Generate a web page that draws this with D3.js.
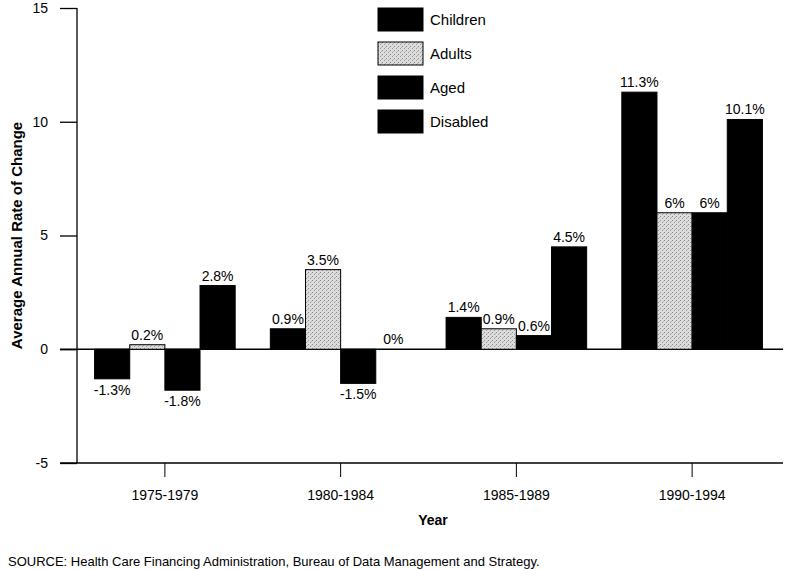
<!DOCTYPE html>
<html><head><meta charset="utf-8">
<script src="https://cdn.jsdelivr.net/npm/d3@7"></script>
<style>body{margin:0;background:#fff}svg{display:block}text{font-family:"Liberation Sans",Arial,Helvetica,sans-serif}</style>
</head><body><svg id="c" width="790" height="570"></svg>
<script>
const categories = ["1975-1979","1980-1984","1985-1989","1990-1994"];
const seriesNames = ["Children","Adults","Aged","Disabled"];
const children = [-1.3, 0.9, 1.4, 11.3];
const adults   = [0.2, 3.5, 0.9, 6];
const aged     = [-1.8, -1.5, 0.6, 6];
const disabled = [2.8, 0, 4.5, 10.1];
const yTicks = [-5, 0, 5, 10, 15];
const seriesValues = [children, adults, aged, disabled];

const svg = d3.select("#c");
const defs = svg.append("defs");
const pat = defs.append("pattern").attr("id","stip").attr("patternUnits","userSpaceOnUse").attr("width",4).attr("height",4);
pat.append("rect").attr("width",4).attr("height",4).attr("fill","#dcdcdc");
pat.append("rect").attr("x",0).attr("y",0).attr("width",1).attr("height",1).attr("fill","#8a8a8a");
pat.append("rect").attr("x",2).attr("y",2).attr("width",1).attr("height",1).attr("fill","#9a9a9a");
pat.append("rect").attr("x",3).attr("y",1).attr("width",1).attr("height",1).attr("fill","#b5b5b5");
const fills = ["#000","url(#stip)","#000","#000"];

const axisX = 77, left = 60, right = 783;
const y = d3.scaleLinear().domain([-5,15]).range([463,8]);
const x0 = d3.scaleBand().domain(categories).range([axisX,780]).paddingInner(0.2).paddingOuter(0.1);
const x1 = d3.scaleBand().domain(seriesNames).range([0,x0.bandwidth()]);

// horizontal lines at 0 and -5
svg.append("line").attr("x1",left).attr("x2",right).attr("y1",y(0)).attr("y2",y(0)).attr("stroke","#000").attr("stroke-width",1.3);
svg.append("line").attr("x1",left).attr("x2",right).attr("y1",y(-5)).attr("y2",y(-5)).attr("stroke","#000").attr("stroke-width",1.3);

// y axis
const yAxis = d3.axisLeft(y).tickValues(yTicks).tickSize(axisX-left).tickPadding(12).tickFormat(d=>String(d));
const gy = svg.append("g").attr("transform",`translate(${axisX},0)`).call(yAxis);
gy.select(".domain").remove();
gy.selectAll(".tick line").attr("stroke","#000").attr("stroke-width",1.3);
gy.selectAll(".tick text").attr("font-size",14).attr("fill","#000");
svg.append("line").attr("x1",axisX).attr("x2",axisX).attr("y1",y(15)).attr("y2",y(-5)).attr("stroke","#000").attr("stroke-width",1.3);

// x axis
const xAxis = d3.axisBottom(x0).tickSize(14).tickPadding(13);
const gx = svg.append("g").attr("transform",`translate(0,${y(-5)})`).call(xAxis);
gx.select(".domain").remove();
gx.selectAll(".tick line").attr("stroke","#000").attr("stroke-width",1);
gx.selectAll(".tick text").attr("font-size",14).attr("fill","#000");

// bars
const data = [];
categories.forEach((c,i)=>seriesNames.forEach((s,j)=>data.push({c,s,j,v:seriesValues[j][i]})));
const g = svg.append("g");
g.selectAll("rect").data(data).enter().append("rect")
  .attr("x",d=>x0(d.c)+x1(d.s))
  .attr("width",x1.bandwidth())
  .attr("y",d=>y(Math.max(0,d.v)))
  .attr("height",d=>Math.abs(y(d.v)-y(0)))
  .attr("fill",d=>fills[d.j])
  .attr("stroke","#000").attr("stroke-width",1);
g.selectAll("text").data(data).enter().append("text")
  .attr("x",d=>x0(d.c)+x1(d.s)+x1.bandwidth()/2)
  .attr("y",d=>d.v<0 ? y(d.v)+16 : y(d.v)-5)
  .attr("text-anchor","middle").attr("font-size",14).attr("fill","#000")
  .text(d=>`${d.v}%`);

// legend
const lg = svg.append("g").attr("transform","translate(378,8)");
seriesNames.forEach((s,j)=>{
  const row = lg.append("g").attr("transform",`translate(0,${j*34})`);
  row.append("rect").attr("width",45).attr("height",23).attr("fill",fills[j]).attr("stroke","#000").attr("stroke-width",1);
  row.append("text").attr("x",52).attr("y",17).attr("font-size",15).attr("fill","#000").text(s);
});

// axis titles
svg.append("text").attr("transform",`translate(22,${y(5)}) rotate(-90)`).attr("text-anchor","middle")
  .attr("font-size",15).attr("font-weight","bold").text("Average Annual Rate of Change");
svg.append("text").attr("x",433).attr("y",525).attr("text-anchor","middle")
  .attr("font-size",14).attr("font-weight","bold").text("Year");
svg.append("text").attr("x",8).attr("y",566).attr("font-size",13)
  .text("SOURCE: Health Care Financing Administration, Bureau of Data Management and Strategy.");
</script></body></html>
